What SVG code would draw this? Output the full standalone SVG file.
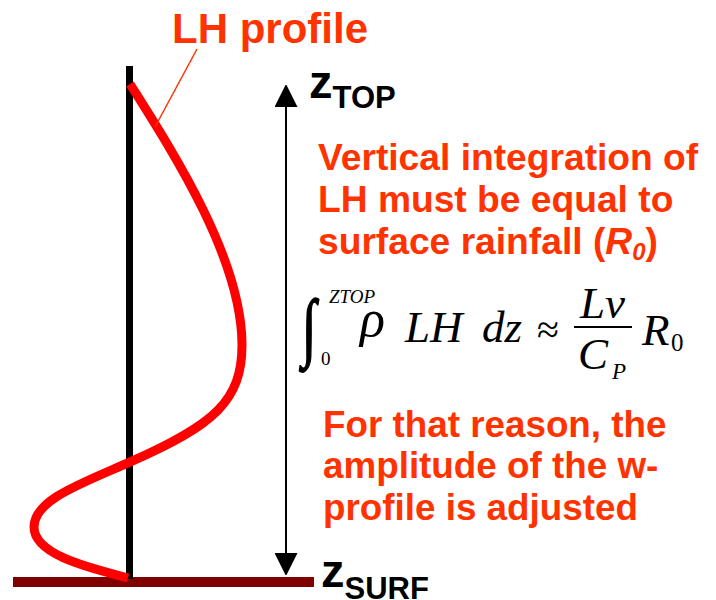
<svg xmlns="http://www.w3.org/2000/svg" width="716" height="600" viewBox="0 0 716 600">
<defs>
<style>
.lbl{font-family:"Liberation Sans",Arial,sans-serif;font-weight:bold;fill:#FF3300}
.ax{font-family:"Liberation Sans",Arial,sans-serif;font-weight:bold;fill:#000}
.m{font-family:"Liberation Serif","Times New Roman",serif;font-style:italic;fill:#000}
.mr{font-family:"Liberation Serif","Times New Roman",serif;fill:#000}
</style>
<marker id="ah" viewBox="0 0 22 23" refX="0" refY="11.5" markerWidth="22" markerHeight="23" markerUnits="userSpaceOnUse" orient="auto-start-reverse">
<path d="M0,0 L23,11.5 L0,23 Z" fill="#000"/>
</marker>
</defs>
<rect width="716" height="600" fill="#fff"/>
<g id="ground"><rect x="13" y="577" width="301" height="10" fill="#800000"/></g>
<g id="axis"><rect x="126" y="66" width="7" height="513" fill="#000"/></g>
<g id="lh-curve"><path d="M130,84 C175,155 242,260 242,345 C242,400 215,425 130,462 C80,484 34,500 34,527 C34,555 90,568 128,578" fill="none" stroke="#FF0000" stroke-width="9"/></g>
<g id="connectors">
<line x1="197" y1="49" x2="155" y2="127" stroke="#FF3300" stroke-width="1.5"/>
<line x1="286" y1="107" x2="286" y2="553" stroke="#000" stroke-width="2" marker-start="url(#ah)" marker-end="url(#ah)"/>
</g>
<g id="lh-label"><text class="lbl" x="172" y="43" font-size="42">LH profile</text></g>
<g id="ztop"><text class="ax" x="309" y="98" font-size="47">z<tspan font-size="31" dy="10">TOP</tspan></text></g>
<g id="zsurf"><text class="ax" x="321" y="587" font-size="47">z<tspan font-size="31" dy="12">SURF</tspan></text></g>
<g id="text1">
<text class="lbl" x="318" y="170" font-size="37.2">Vertical integration of</text>
<text class="lbl" x="318" y="212" font-size="37.2">LH must be equal to</text>
<text class="lbl" x="318" y="254" font-size="37.2">surface rainfall (<tspan font-style="italic">R</tspan><tspan font-style="italic" font-size="24" dy="6">0</tspan><tspan dy="-6">)</tspan></text>
</g>
<g id="equation">
<text class="mr" x="0" y="0" font-size="52" stroke="#000" stroke-width="1.2" transform="translate(302,352) scale(1,1.45)">∫</text>
<text class="m" x="329" y="303" font-size="19">ZTOP</text>
<text class="mr" x="321" y="365" font-size="19">0</text>
<text class="m" x="360" y="336" font-size="52">ρ</text>
<text class="m" x="405" y="342" font-size="45">LH</text>
<text class="m" x="482" y="342" font-size="45">dz</text>
<text class="mr" x="537" y="343" font-size="40">≈</text>
<text class="m" x="580" y="318" font-size="45">Lv</text>
<line x1="574" y1="327" x2="632" y2="327" stroke="#000" stroke-width="2"/>
<text class="m" x="578" y="369" font-size="45">C</text>
<text class="m" x="612" y="379" font-size="23">P</text>
<text class="m" x="642" y="345" font-size="45">R</text>
<text class="mr" x="671" y="351" font-size="25">0</text>
</g>
<g id="text2">
<text class="lbl" x="323" y="437" font-size="36.8">For that reason, the</text>
<text class="lbl" x="323" y="478" font-size="36.8">amplitude of the w-</text>
<text class="lbl" x="323" y="520" font-size="36.8">profile is adjusted</text>
</g>
</svg>
